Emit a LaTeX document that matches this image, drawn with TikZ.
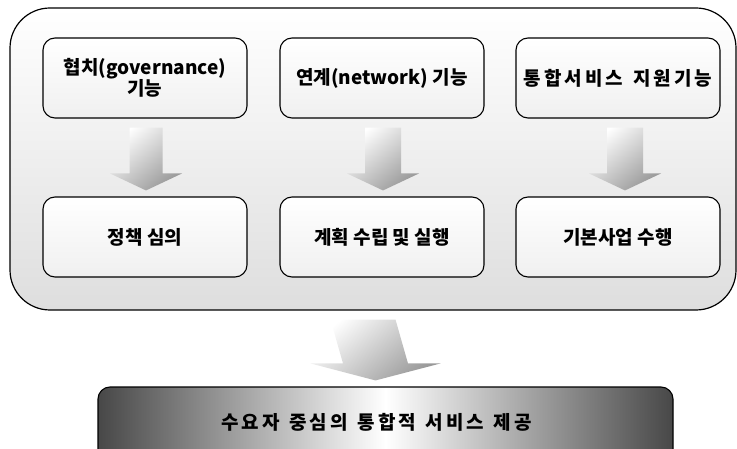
\documentclass[tikz,border=0pt]{standalone}
\usepackage{fontspec}
\setmainfont{Noto Sans CJK KR}
\newfontfamily\widekr{Noto Sans CJK KR}[LetterSpace=16, WordSpace=1.3]
\usetikzlibrary{calc}

\tikzset{
	hub/.style={draw=black, line width=1.2pt, rounded corners=40pt, top color=white, bottom color=black!13, minimum width=726pt, minimum height=302pt},
	task/.style={draw=black, line width=1.1pt, rounded corners=12pt, top color=white, bottom color=black!6, minimum width=204pt, minimum height=80pt, align=center, font=\fontsize{19}{18}\selectfont\bfseries},
	goalbar/.style={draw=black, line width=1.1pt, rounded corners=12pt, left color=black!72, right color=black!72, middle color=white, minimum width=575pt, minimum height=76pt, font=\fontsize{19}{22}\selectfont\widekr\bfseries},
	arrowshade/.style={top color=white, bottom color=black!40, shading angle=40},
}

% fat arrow: from, to, x offset, shaft half width, head half width
\newcommand{\fatarrow}[5]{%
	\shade[arrowshade] ($(#1.south)+(#3-#4,9)$) -- ($(#1.south)+(#3+#4,9)$) -- ($(#2.north)+(#3+#4,-23)$) -- ($(#2.north)+(#3+#5,-23)$) -- ($(#2.north)+(#3,-6)$) -- ($(#2.north)+(#3-#5,-23)$) -- ($(#2.north)+(#3-#4,-23)$) -- cycle;%
}

\begin{document}
\begin{tikzpicture}[x=1pt, y=-1pt]
			\useasboundingbox (0,0) rectangle (737,449);
			\clip (0,0) rectangle (737,449);
			% outer frame
			\node[hub] (hub) at (373,159) {};
			% functions
			\node[task] (gov) at (145,78) {협치(governance)\\기능};
			\node[task] (net) at (382,78) {연계(network) 기능};
			\node[task] (svc) at (618,78) {\widekr 통합서비스 지원기능};
			% roles
			\node[task] (pol) at (145,237) {정책 심의};
			\node[task] (plan) at (382,237) {계획 수립 및 실행};
			\node[task] (biz) at (618,237) {기본사업 수행};
			% arrows inside the frame
			\fatarrow{gov}{pol}{1}{16.5}{36}
			\fatarrow{net}{plan}{1}{18}{36}
			\fatarrow{svc}{biz}{7}{18}{36}
			% result
			\node[goalbar] (goal) at (385.5,425) {\raisebox{8pt}{수요자 중심의 통합적 서비스 제공}\hspace*{18pt}};
			% arrow to the result
			\fatarrow{hub}{goal}{-10}{32.5}{65}
		\end{tikzpicture}
\end{document}
